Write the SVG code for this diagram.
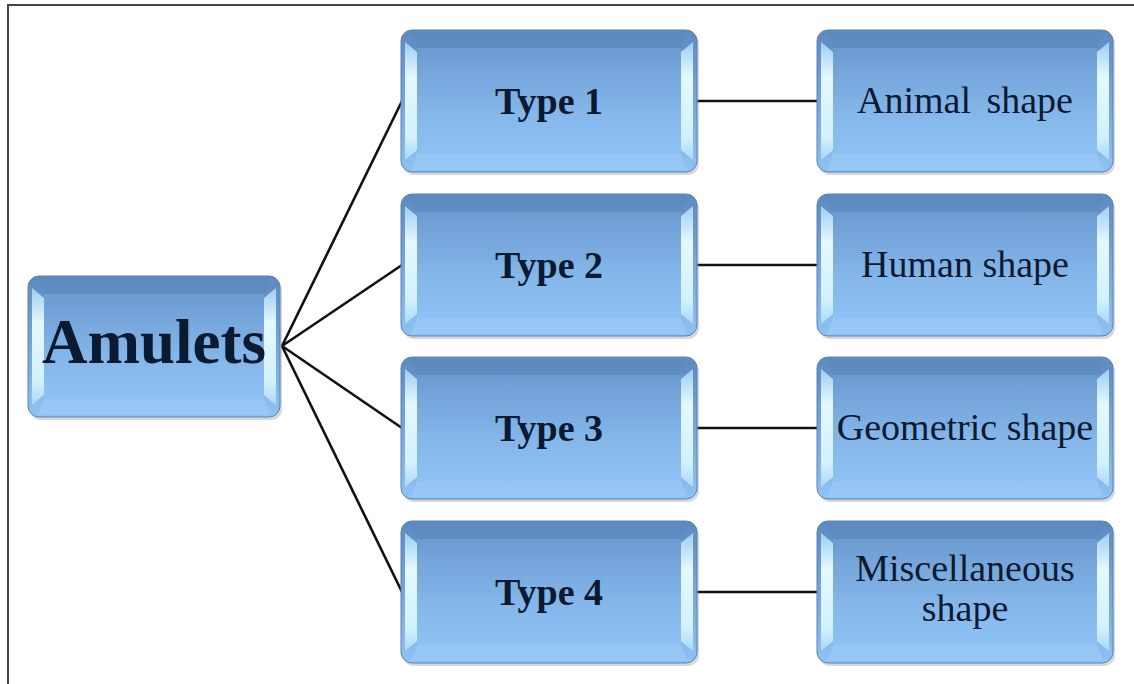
<svg xmlns="http://www.w3.org/2000/svg" width="1134" height="684" viewBox="0 0 1134 684">
<style>
.frame{fill:none;stroke:#444;stroke-width:2}
.edge{fill:none;stroke:#111;stroke-width:2.6}
.out{fill:url(#face);stroke:#5a82b0;stroke-width:1}
.sh{fill:#8a8f96;opacity:0.35}
.hl{fill:url(#hi)}
.tb{fill:#5c88bc;opacity:0.4}
.bb{fill:#9acbf7;opacity:0.7}
.in{fill:url(#inner)}
.tBold{font-family:"Liberation Serif","Times New Roman",serif;font-weight:bold;fill:#0b1a30;text-anchor:middle}
.tReg{font-family:"Liberation Serif","Times New Roman",serif;fill:#0b1a30;text-anchor:middle;font-size:38px}
</style>
<defs>
<linearGradient id="face" x1="0" y1="0" x2="0" y2="1">
<stop offset="0" stop-color="#5d8ac0"/>
<stop offset="1" stop-color="#8fc2f3"/>
</linearGradient>
<linearGradient id="inner" x1="0" y1="0" x2="0" y2="1">
<stop offset="0" stop-color="#6c9bd0"/>
<stop offset="0.6" stop-color="#84b6ea"/>
<stop offset="1" stop-color="#8ec1f4"/>
</linearGradient>
<linearGradient id="hi" x1="0" y1="0" x2="0" y2="1">
<stop offset="0" stop-color="#9fcdf0"/>
<stop offset="0.3" stop-color="#e4f8ff"/>
<stop offset="0.8" stop-color="#d2f1ff"/>
<stop offset="1" stop-color="#a9d8f8"/>
</linearGradient>
</defs>
<rect x="0" y="0" width="1134" height="684" fill="#ffffff"/>
<path class="frame" d="M8,684 L8,5 L1134,5"/>

<g id="connectors">
<line class="edge" x1="282" y1="346" x2="402" y2="101"/>
<line class="edge" x1="282" y1="346" x2="402" y2="265"/>
<line class="edge" x1="282" y1="346" x2="402" y2="428"/>
<line class="edge" x1="282" y1="346" x2="402" y2="592"/>
<line class="edge" x1="697" y1="101" x2="817" y2="101"/>
<line class="edge" x1="697" y1="265" x2="817" y2="265"/>
<line class="edge" x1="697" y1="428" x2="817" y2="428"/>
<line class="edge" x1="697" y1="592" x2="817" y2="592"/>
</g>

<g id="amulets" transform="translate(28,276)">
<rect class="sh" x="2" y="3" width="252" height="141" rx="11"/>
<rect class="out" x="0" y="0" width="252" height="141" rx="11"/>
<path class="tb" d="M10,2 L242,2 L236,18 L16,18 Z"/>
<path class="bb" d="M16,123 L236,123 L242,139 L10,139 Z"/>
<rect class="in" x="16" y="18" width="220" height="105"/>
<path class="hl" d="M4,12 L16,22 L16,119 L4,129 Z"/>
<path class="hl" d="M248,12 L236,22 L236,119 L248,129 Z"/>
<text class="tBold" x="126" y="87" font-size="63">Amulets</text>
</g>

<g id="type1" transform="translate(401,30)">
<rect class="sh" x="2" y="3" width="296" height="142" rx="11"/>
<rect class="out" x="0" y="0" width="296" height="142" rx="11"/>
<path class="tb" d="M10,2 L286,2 L280,18 L16,18 Z"/>
<path class="bb" d="M16,124 L280,124 L286,140 L10,140 Z"/>
<rect class="in" x="16" y="18" width="264" height="106"/>
<path class="hl" d="M4,12 L16,22 L16,120 L4,130 Z"/>
<path class="hl" d="M292,12 L280,22 L280,120 L292,130 Z"/>
<text class="tBold" x="148" y="84" font-size="38">Type 1</text>
</g>

<g id="type2" transform="translate(401,194)">
<rect class="sh" x="2" y="3" width="296" height="142" rx="11"/>
<rect class="out" x="0" y="0" width="296" height="142" rx="11"/>
<path class="tb" d="M10,2 L286,2 L280,18 L16,18 Z"/>
<path class="bb" d="M16,124 L280,124 L286,140 L10,140 Z"/>
<rect class="in" x="16" y="18" width="264" height="106"/>
<path class="hl" d="M4,12 L16,22 L16,120 L4,130 Z"/>
<path class="hl" d="M292,12 L280,22 L280,120 L292,130 Z"/>
<text class="tBold" x="148" y="84" font-size="38">Type 2</text>
</g>

<g id="type3" transform="translate(401,357)">
<rect class="sh" x="2" y="3" width="296" height="142" rx="11"/>
<rect class="out" x="0" y="0" width="296" height="142" rx="11"/>
<path class="tb" d="M10,2 L286,2 L280,18 L16,18 Z"/>
<path class="bb" d="M16,124 L280,124 L286,140 L10,140 Z"/>
<rect class="in" x="16" y="18" width="264" height="106"/>
<path class="hl" d="M4,12 L16,22 L16,120 L4,130 Z"/>
<path class="hl" d="M292,12 L280,22 L280,120 L292,130 Z"/>
<text class="tBold" x="148" y="84" font-size="38">Type 3</text>
</g>

<g id="type4" transform="translate(401,521)">
<rect class="sh" x="2" y="3" width="296" height="142" rx="11"/>
<rect class="out" x="0" y="0" width="296" height="142" rx="11"/>
<path class="tb" d="M10,2 L286,2 L280,18 L16,18 Z"/>
<path class="bb" d="M16,124 L280,124 L286,140 L10,140 Z"/>
<rect class="in" x="16" y="18" width="264" height="106"/>
<path class="hl" d="M4,12 L16,22 L16,120 L4,130 Z"/>
<path class="hl" d="M292,12 L280,22 L280,120 L292,130 Z"/>
<text class="tBold" x="148" y="84" font-size="38">Type 4</text>
</g>

<g id="animal" transform="translate(817,30)">
<rect class="sh" x="2" y="3" width="296" height="142" rx="11"/>
<rect class="out" x="0" y="0" width="296" height="142" rx="11"/>
<path class="tb" d="M10,2 L286,2 L280,18 L16,18 Z"/>
<path class="bb" d="M16,124 L280,124 L286,140 L10,140 Z"/>
<rect class="in" x="16" y="18" width="264" height="106"/>
<path class="hl" d="M4,12 L16,22 L16,120 L4,130 Z"/>
<path class="hl" d="M292,12 L280,22 L280,120 L292,130 Z"/>
<text class="tReg" x="148" y="83" word-spacing="6">Animal shape</text>
</g>

<g id="human" transform="translate(817,194)">
<rect class="sh" x="2" y="3" width="296" height="142" rx="11"/>
<rect class="out" x="0" y="0" width="296" height="142" rx="11"/>
<path class="tb" d="M10,2 L286,2 L280,18 L16,18 Z"/>
<path class="bb" d="M16,124 L280,124 L286,140 L10,140 Z"/>
<rect class="in" x="16" y="18" width="264" height="106"/>
<path class="hl" d="M4,12 L16,22 L16,120 L4,130 Z"/>
<path class="hl" d="M292,12 L280,22 L280,120 L292,130 Z"/>
<text class="tReg" x="148" y="83">Human shape</text>
</g>

<g id="geometric" transform="translate(817,357)">
<rect class="sh" x="2" y="3" width="296" height="142" rx="11"/>
<rect class="out" x="0" y="0" width="296" height="142" rx="11"/>
<path class="tb" d="M10,2 L286,2 L280,18 L16,18 Z"/>
<path class="bb" d="M16,124 L280,124 L286,140 L10,140 Z"/>
<rect class="in" x="16" y="18" width="264" height="106"/>
<path class="hl" d="M4,12 L16,22 L16,120 L4,130 Z"/>
<path class="hl" d="M292,12 L280,22 L280,120 L292,130 Z"/>
<text class="tReg" x="148" y="83">Geometric shape</text>
</g>

<g id="misc" transform="translate(817,521)">
<rect class="sh" x="2" y="3" width="296" height="142" rx="11"/>
<rect class="out" x="0" y="0" width="296" height="142" rx="11"/>
<path class="tb" d="M10,2 L286,2 L280,18 L16,18 Z"/>
<path class="bb" d="M16,124 L280,124 L286,140 L10,140 Z"/>
<rect class="in" x="16" y="18" width="264" height="106"/>
<path class="hl" d="M4,12 L16,22 L16,120 L4,130 Z"/>
<path class="hl" d="M292,12 L280,22 L280,120 L292,130 Z"/>
<text class="tReg" x="148" y="60" font-size="37">Miscellaneous</text>
<text class="tReg" x="148" y="100" font-size="37">shape</text>
</g>
</svg>
